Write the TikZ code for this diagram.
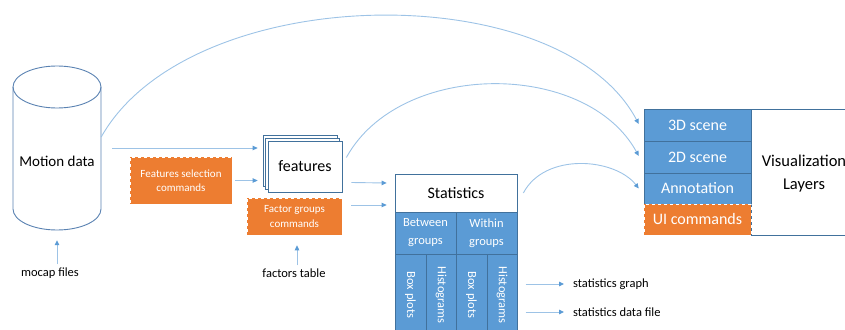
\documentclass[tikz,border=0pt]{standalone}
\usepackage{fontspec}
\setmainfont{Carlito}
\usetikzlibrary{arrows.meta,shadows,calc}
\definecolor{bfill}{HTML}{5B9BD5}
\definecolor{ofill}{HTML}{ED7D31}
\definecolor{bedge}{HTML}{41719C}
\definecolor{cyl}{HTML}{5A82B2}
\definecolor{cline}{HTML}{9DC3E6}
\definecolor{ctip}{HTML}{5B9BD5}
\begin{document}
\begin{tikzpicture}[x=1pt,y=-1pt,
 conn/.style={draw=cline, line width=0.9pt, -{Triangle[length=5pt,width=4.5pt,color=ctip]}},
 lbl/.style={font=\fontsize{12.5}{15}\selectfont, inner sep=0pt},
 obox/.style={fill=ofill, draw=white, dashed, line width=0.6pt, text=white, align=center, inner sep=0pt, font=\fontsize{11}{14.5}\selectfont},
 bcell/.style={fill=bfill, draw=bedge, line width=0.5pt, text=white, inner sep=0pt, align=center},
 wbox/.style={fill=white, draw=bedge, line width=0.7pt, inner sep=0pt, align=center},
 vrow/.style={bcell, minimum width=107pt, font=\fontsize{16}{19}\selectfont},
 vcol/.style={bcell, minimum width=30.5pt, minimum height=82pt, font=\fontsize{12.5}{15}\selectfont},
]
\useasboundingbox (0,0) rectangle (845,329);

% cylinder
\draw[cyl, line width=0.9pt, fill=white] (13,87) -- (13,209) .. controls (13,220.6) and (32.7,230) .. (57,230) .. controls (81.3,230) and (101,220.6) .. (101,209) -- (101,87);
\draw[cyl, line width=0.9pt] (57,87) ellipse [x radius=44, y radius=21];
\node[inner sep=0pt, minimum width=88pt, minimum height=164pt] (motion) at (57,148) {};
\node[inner sep=0pt, font=\fontsize{15}{18}\selectfont] (motionlbl) at (57,161) {Motion data};
\node[lbl] (mocap) at (50,273) {mocap files};

% features
\node[wbox, minimum width=74pt, minimum height=51pt, font=\fontsize{16}{19}\selectfont,
  double copy shadow={shadow xshift=-2.5pt, shadow yshift=3pt, fill=white, draw=bedge, line width=0.7pt}] (features) at (305,166.5) {features};
\node[obox, minimum width=102pt, minimum height=47pt] (featsel) at (181,180.5) {Features selection\\commands};
\node[obox, minimum width=95pt, minimum height=37pt] (factor) at (294.5,216.5) {Factor groups\\commands};
\node[lbl] (factab) at (294,273) {factors table};

% statistics
\node[wbox, minimum width=122pt, minimum height=38pt, font=\fontsize{16}{19}\selectfont] (stathead) at (456,193) {Statistics};
\node[bcell, minimum width=61pt, minimum height=42pt, font=\fontsize{12.5}{18}\selectfont] (between) at (425.5,233) {Between\\groups};
\node[bcell, minimum width=61pt, minimum height=42pt, font=\fontsize{12.5}{18}\selectfont] (within) at (486.5,233) {Within\\groups};
\node[vcol] (box1) at (410.5,295) {\rotatebox{-90}{Box plots}};
\node[vcol] (hist1) at (441,295) {\rotatebox{-90}{Histograms}};
\node[vcol] (box2) at (471.5,295) {\rotatebox{-90}{Box plots}};
\node[vcol] (hist2) at (502,295) {\rotatebox{-90}{Histograms}};
\node[lbl, anchor=west] (sgraph) at (573,284) {statistics graph};
\node[lbl, anchor=west] (sdata) at (573,312) {statistics data file};

% visualization
\node[wbox, minimum width=102pt, minimum height=126pt] (vislayer) at (802,172) {};
\node[inner sep=0pt, align=center, font=\fontsize{16.5}{23}\selectfont] (vistext) at (804,174) {Visualization\\Layers};
\node[vrow, minimum height=32pt] (vis3d) at (697.5,125) {3D scene};
\node[vrow, minimum height=32pt] (vis2d) at (697.5,157) {2D scene};
\node[vrow, minimum height=31pt] (visann) at (697.5,188.5) {Annotation};
\node[obox, minimum width=107pt, minimum height=31pt, font=\fontsize{16}{19}\selectfont] (visui) at (697.5,219.5) {UI commands};

% connectors
\draw[conn] ($(motion.east)+(11,0)$) -- ($(motion.east -| features.west)+(-10,0)$);
\draw[conn] ($(featsel.east)+(3,0)$) -- ($(featsel.east -| features.west)+(-10,0)$);
\draw[conn] ($(mocap.north -| motion.south)+(0,-3)$) -- ($(motion.south)+(0,10)$);
\draw[conn] ($(factab.north)+(3,-3)$) -- ($(factor.south)+(2.5,10)$);
\draw[conn] ($(features.east)+(9,16)$) -- ($(stathead.west)+(-8,-10)$);
\draw[conn] ($(factor.east)+(9,-11.5)$) -- ($(stathead.west)+(-8,12)$);
\draw[conn] ($(hist2.east |- sgraph.west)+(8,0)$) -- ($(sgraph.west)+(-9,0)$);
\draw[conn] ($(hist2.east |- sdata.west)+(8,0)$) -- ($(sdata.west)+(-9,0)$);
\draw[conn] (motion.14) .. controls (190,-20) and (560,-25) .. ($(vis3d.west)+(-5,-1)$);
\draw[conn] ($(features.east)+(4,-9)$) .. controls (400,60) and (586,60) .. ($(vis2d.west)+(-5,-1)$);
\draw[conn] ($(stathead.east)+(6,0)$) .. controls (545,152) and (615,158) .. ($(visann.west)+(-5,0)$);
\end{tikzpicture}
\end{document}
